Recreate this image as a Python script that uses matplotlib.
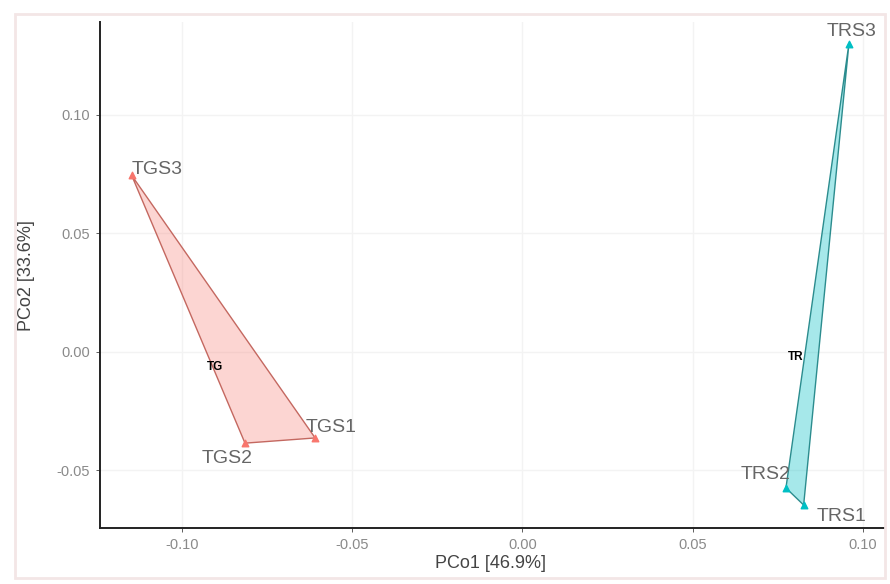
import matplotlib
matplotlib.use("Agg")
import matplotlib.pyplot as plt
from matplotlib.patches import Polygon, Rectangle

# ---- data ----
groups = ["TG", "TR"]
tg_samples = ["TGS1", "TGS2", "TGS3"]
tg_x = [-0.0609, -0.0815, -0.1148]
tg_y = [-0.0363, -0.0385, 0.0745]
tr_samples = ["TRS1", "TRS2", "TRS3"]
tr_x = [0.0826, 0.0774, 0.0959]
tr_y = [-0.0646, -0.0574, 0.1300]
group_label_x = [-0.0903, 0.0803]
group_label_y = [-0.0063, -0.0020]
x_ticks = [-0.10, -0.05, 0.00, 0.05, 0.10]
y_ticks = [-0.05, 0.00, 0.05, 0.10]
x_title = "PCo1 [46.9%]"
y_title = "PCo2 [33.6%]"

# label offsets in pixels (style)
tg_off = [(16, 10), (-18, -15), (25, 6)]
tr_off = [(38, -11), (-20, 13), (3, 12)]

plt.rcParams["font.family"] = ["Liberation Sans", "DejaVu Sans"]

fig = plt.figure(figsize=(8.9, 5.84), dpi=100)
ax = fig.add_axes([100 / 890, 1 - 528 / 584, 785 / 890, 506 / 584])

fig.patches.append(Rectangle((15 / 890, 6 / 584), 870 / 890, 564 / 584,
                             transform=fig.transFigure, fill=False,
                             edgecolor="#f3e6e6", linewidth=2))

red = "#F8766D"
cyan = "#00BFC4"

ax.add_patch(Polygon(list(zip(tg_x, tg_y)), closed=True, facecolor=red,
                     alpha=0.3, edgecolor="none", zorder=2))
ax.add_patch(Polygon(list(zip(tg_x, tg_y)), closed=True, fill=False,
                     edgecolor="#c46860", linewidth=1.0, zorder=3))
ax.add_patch(Polygon(list(zip(tr_x, tr_y)), closed=True, facecolor=cyan,
                     alpha=0.35, edgecolor="none", zorder=2))
ax.add_patch(Polygon(list(zip(tr_x, tr_y)), closed=True, fill=False,
                     edgecolor="#2b8c8e", linewidth=1.0, zorder=3))

ax.scatter(tg_x, tg_y, marker="^", s=22, color=red, zorder=4)
ax.scatter(tr_x, tr_y, marker="^", s=22, color=cyan, zorder=4)

for name, x, y, off in zip(tg_samples, tg_x, tg_y, tg_off):
    ax.annotate(name, (x, y), xytext=off, textcoords="offset pixels",
                ha="center", va="center", fontsize=14, color="#666666", zorder=5)
for name, x, y, off in zip(tr_samples, tr_x, tr_y, tr_off):
    ax.annotate(name, (x, y), xytext=off, textcoords="offset pixels",
                ha="center", va="center", fontsize=14, color="#666666", zorder=5)
for g, x, y in zip(groups, group_label_x, group_label_y):
    ax.text(x, y, g, ha="center", va="center", fontsize=8.5, fontweight="bold",
            color="black", zorder=5)

ax.set_xlim(-0.1241, 0.1065)
ax.set_ylim(-0.0743, 0.1392)
ax.set_xticks(x_ticks)
ax.set_xticklabels([f"{v:.2f}" for v in x_ticks])
ax.set_yticks(y_ticks)
ax.set_yticklabels([f"{v:.2f}" for v in y_ticks])
ax.tick_params(labelsize=10.5, labelcolor="#8a8a8a", length=3, width=0.6,
               color="#444444", pad=4)
for s in ["top", "right"]:
    ax.spines[s].set_visible(False)
for s in ["left", "bottom"]:
    ax.spines[s].set_linewidth(1.4)
    ax.spines[s].set_color("#222222")
ax.grid(True, color="#f3f3f3", linewidth=1.0, zorder=0)
ax.set_axisbelow(True)

ax.set_xlabel(x_title, fontsize=13, color="#444444")
ax.set_ylabel(y_title, fontsize=13, color="#444444")
ax.xaxis.set_label_coords(0.498, -0.053)
ax.yaxis.set_label_coords(-0.083, 0.498)

fig.savefig("out.png", dpi=100)
